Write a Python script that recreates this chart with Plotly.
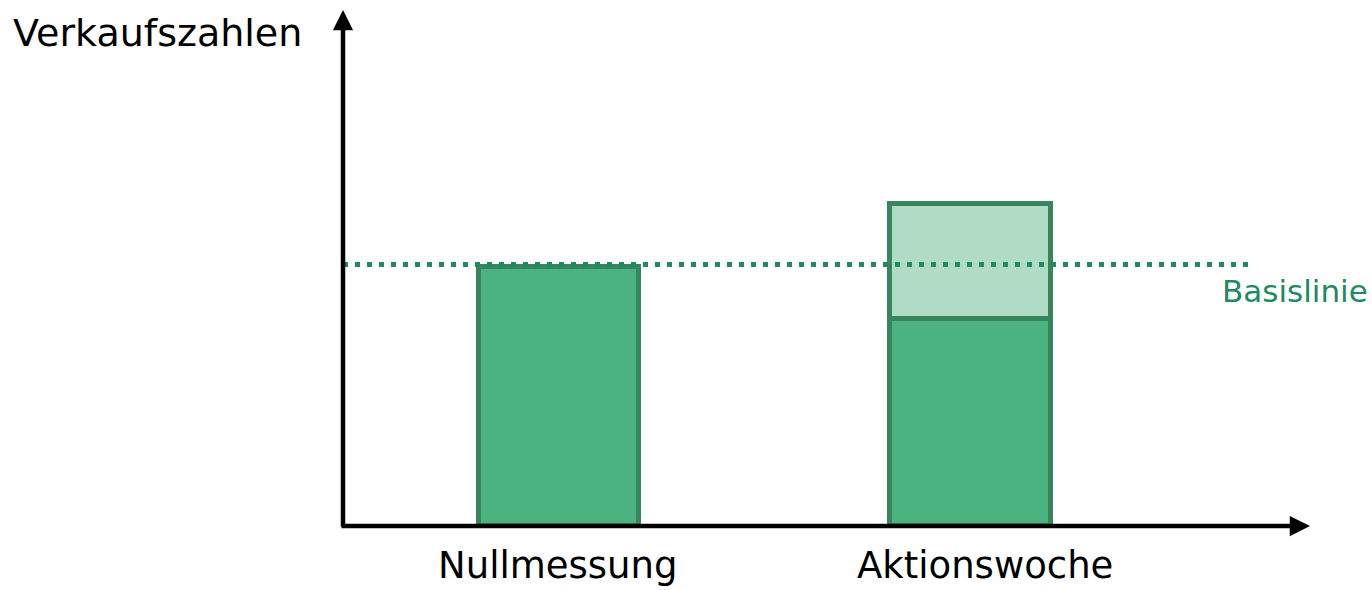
import plotly.graph_objects as go

# ---- data ----
categories = ["Nullmessung", "Aktionswoche"]
basis_values = [99, 79]          # dunkelgrüner Teil
aktion_values = [None, 44]       # hellgrüner Zusatz
baseline_value = 100
y_axis_title = "Verkaufszahlen"
baseline_label = "Basislinie"

# ---- style ----
FONT = "DejaVu Sans"
DARK = "#4BB380"
LIGHT = "#B0DCC6"
EDGE = "#37855C"
DOT = "#1F8A5E"
X_RANGE = [-0.525, 1.825]
Y_RANGE = [0, 197.3]
LABEL_XSHIFT = [-2, 14]

fig = go.Figure()
fig.add_trace(go.Bar(x=categories, y=basis_values, width=0.391,
                     marker=dict(color=DARK, line=dict(color=EDGE, width=5)),
                     hoverinfo="skip"))
fig.add_trace(go.Bar(x=categories, y=aktion_values, width=0.391,
                     marker=dict(color=LIGHT, line=dict(color=EDGE, width=5)),
                     hoverinfo="skip"))

# dotted baseline
fig.add_shape(type="line", xref="x", yref="y", x0=X_RANGE[0], x1=1.679,
              y0=baseline_value, y1=baseline_value,
              line=dict(color=DOT, width=5, dash="5px,7px"), layer="above")

# axis arrows
fig.add_annotation(xref="x", yref="y", x=X_RANGE[0], y=Y_RANGE[1],
                   axref="pixel", ayref="pixel", ax=0, ay=518,
                   showarrow=True, arrowhead=2, arrowsize=0.9, arrowwidth=4.5,
                   arrowcolor="black", text="")
fig.add_annotation(xref="x", yref="y", x=X_RANGE[1], y=0,
                   axref="pixel", ayref="pixel", ax=-970, ay=0,
                   showarrow=True, arrowhead=2, arrowsize=0.9, arrowwidth=4.5,
                   arrowcolor="black", text="")

# category labels
for cat, xs in zip(categories, LABEL_XSHIFT):
    fig.add_annotation(xref="x", yref="paper", x=cat, y=0, xanchor="center", yanchor="middle",
                       xshift=xs, yshift=-39, text=cat, showarrow=False,
                       font=dict(family=FONT, size=37, color="black"))

# texts
fig.add_annotation(xref="paper", yref="paper", x=0, y=1, xanchor="right", yanchor="middle",
                   xshift=-39, yshift=-23, text=y_axis_title, showarrow=False,
                   font=dict(family=FONT, size=38, color="black"))
fig.add_annotation(xref="x", yref="y", x=1.679, y=baseline_value, xanchor="left", yanchor="middle",
                   xshift=-30, yshift=-27, text=baseline_label, showarrow=False,
                   font=dict(family=FONT, size=31, color=DOT))

fig.update_layout(
    width=1372, height=590,
    margin=dict(l=343, r=62, t=10, b=64, autoexpand=False),
    paper_bgcolor="white", plot_bgcolor="white",
    barmode="stack", bargap=0, showlegend=False,
    xaxis=dict(type="category", range=X_RANGE, showgrid=False, zeroline=False, showline=False,
               automargin=False, showticklabels=False, ticks="", fixedrange=True),
    yaxis=dict(range=Y_RANGE, visible=False, fixedrange=True, automargin=False),
)

fig.write_html("out.html", config={"displayModeBar": False})
